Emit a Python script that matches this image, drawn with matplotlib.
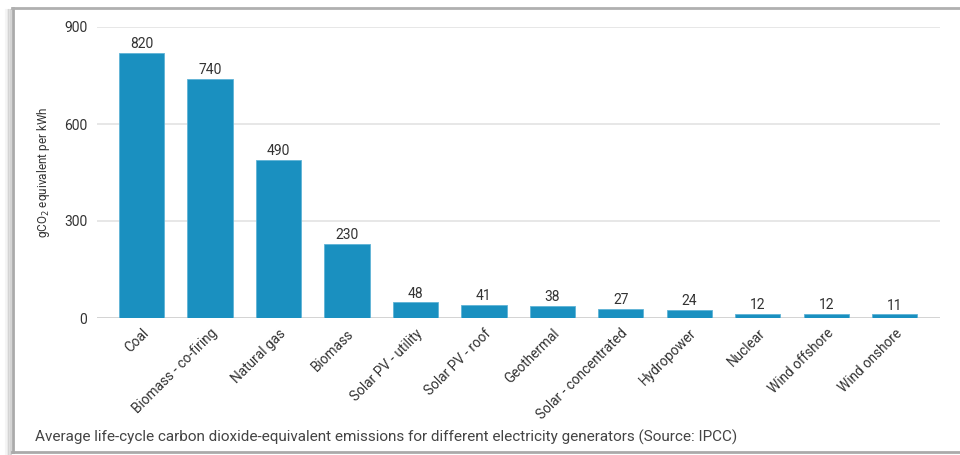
import matplotlib
matplotlib.use("Agg")
import matplotlib.pyplot as plt
from matplotlib.lines import Line2D

plt.rcParams['font.family'] = ['Roboto', 'DejaVu Sans']

categories = ["Coal", "Biomass - co-firing", "Natural gas", "Biomass",
              "Solar PV - utility", "Solar PV - roof", "Geothermal",
              "Solar - concentrated", "Hydropower", "Nuclear",
              "Wind offshore", "Wind onshore"]
emissions = [820, 740, 490, 230, 48, 41, 38, 27, 24, 12, 12, 11]
y_ticks = [0, 300, 600, 900]

bar_color = "#1a90c0"
text_color = "#333333"

W, H = 960, 455
fig = plt.figure(figsize=(W / 100, H / 100), dpi=100)
fig.patch.set_facecolor("white")

# card frame with a soft shadow on the left
def fx(px):
    return px / W

def fy(py):
    return 1 - py / H

for i, a in enumerate([0.08, 0.15, 0.24, 0.35]):
    x = 6 + i * 1.5
    fig.add_artist(Line2D([fx(x), fx(x)], [fy(10), fy(454)], color="#888888",
                          alpha=a, lw=1.5, transform=fig.transFigure))
fig.add_artist(Line2D([fx(12.5), fx(12.5)], [fy(8), fy(452)], color="#aaaaaa",
                      lw=2.0, transform=fig.transFigure))
fig.add_artist(Line2D([fx(12), fx(960)], [fy(8), fy(8)], color="#b0b0b0",
                      lw=2.0, transform=fig.transFigure))
fig.add_artist(Line2D([fx(12), fx(960)], [fy(452), fy(452)], color="#aaaaaa",
                      lw=2.0, transform=fig.transFigure))

# plot area
left, right = 97, 940
top, bottom = 27, 318
ax = fig.add_axes([fx(left), fy(bottom), (right - left) / W, (bottom - top) / H])
ax.set_facecolor("none")

x = list(range(len(categories)))
ax.bar(x, emissions, width=0.66, color=bar_color, edgecolor="#5fb3d6",
       linewidth=0.6, zorder=3)
for xi, v in zip(x, emissions):
    ax.text(xi, v + 6, str(v), ha="center", va="bottom", fontsize=10,
            color=text_color, zorder=4)

ax.set_xlim(-0.65, len(categories) - 1 + 0.66)
ax.set_ylim(0, 900)
ax.set_yticks(y_ticks)
ax.set_yticklabels([str(t) for t in y_ticks], fontsize=10, color=text_color)
ax.set_xticks(x)
ax.set_xticklabels(categories, rotation=45, ha="right", rotation_mode="anchor",
                   fontsize=9.8, color=text_color)
ax.tick_params(axis="both", length=0)
ax.tick_params(axis="y", pad=7)
ax.tick_params(axis="x", pad=6)

for t in y_ticks:
    ax.axhline(t, color="#cccccc" if t == 0 else "#e3e3e3", lw=1.2, zorder=1)
for s in ax.spines.values():
    s.set_visible(False)

ax.set_ylabel("gCO$_2$ equivalent per kWh", fontsize=8.5, color=text_color,
              labelpad=9)

fig.text(fx(35), fy(437), "Average life-cycle carbon dioxide-equivalent emissions "
         "for different electricity generators (Source: IPCC)",
         ha="left", va="center", fontsize=11, color="#444444")

fig.savefig("out.png", dpi=100, facecolor="white")
